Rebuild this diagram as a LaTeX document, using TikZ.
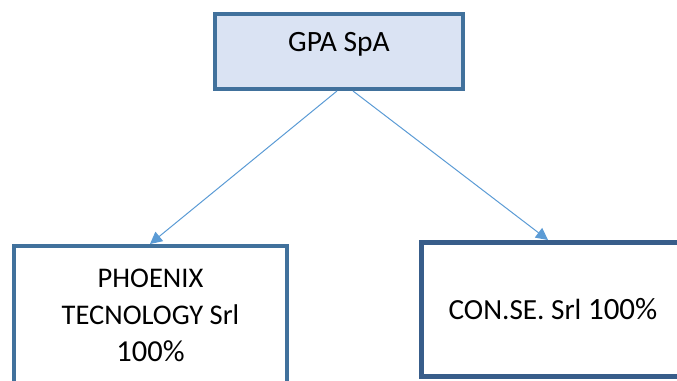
\documentclass[tikz,border=0pt]{standalone}
\usepackage{fontspec}
\setmainfont{Carlito}
\usepackage{xcolor}
\usetikzlibrary{arrows.meta}
\definecolor{boxborder}{HTML}{41719C}
\definecolor{boxborderdark}{HTML}{385D8A}
\definecolor{boxfill}{HTML}{DAE3F3}
\definecolor{linkblue}{HTML}{5B9BD5}

\begin{document}
\begin{tikzpicture}[
  x=1pt, y=-1pt,
  company/.style={
    rectangle,
    draw=boxborder,
    fill=white,
    line width=4pt,
    align=center,
    inner sep=0pt,
    font=\fontsize{28.5}{37}\selectfont
  },
  link/.style={
    draw=linkblue,
    line width=1pt,
    -{Triangle[length=12pt,width=12pt]}
  }
]
\useasboundingbox (0,0) rectangle (677,380);
\node [company, fill=boxfill, minimum width=248pt, minimum height=75pt,
  font=\fontsize{29.5}{37}\selectfont,
  text height=12pt, text depth=12pt] (holding) at (339,51.5) {GPA SpA};
\node [company, minimum width=273pt, minimum height=138pt] (phoenix) at (150.5,315)
  {PHOENIX\\TECNOLOGY Srl\\{\fontsize{30.5}{37}\selectfont 100\%}};
\node [company, draw=boxborderdark, line width=5pt, minimum width=263pt, minimum height=134pt,
  font=\fontsize{29.2}{37}\selectfont] (conse) at (553,309.5)
  {CON.SE. Srl {\fontsize{31}{37}\selectfont 100\%}};
\draw [link] ([xshift=-2pt]holding.south) -- ([xshift=-0.5pt]phoenix.north);
\draw [link] ([xshift=14pt]holding.south) -- ([xshift=-5pt]conse.north);
\end{tikzpicture}
\end{document}
